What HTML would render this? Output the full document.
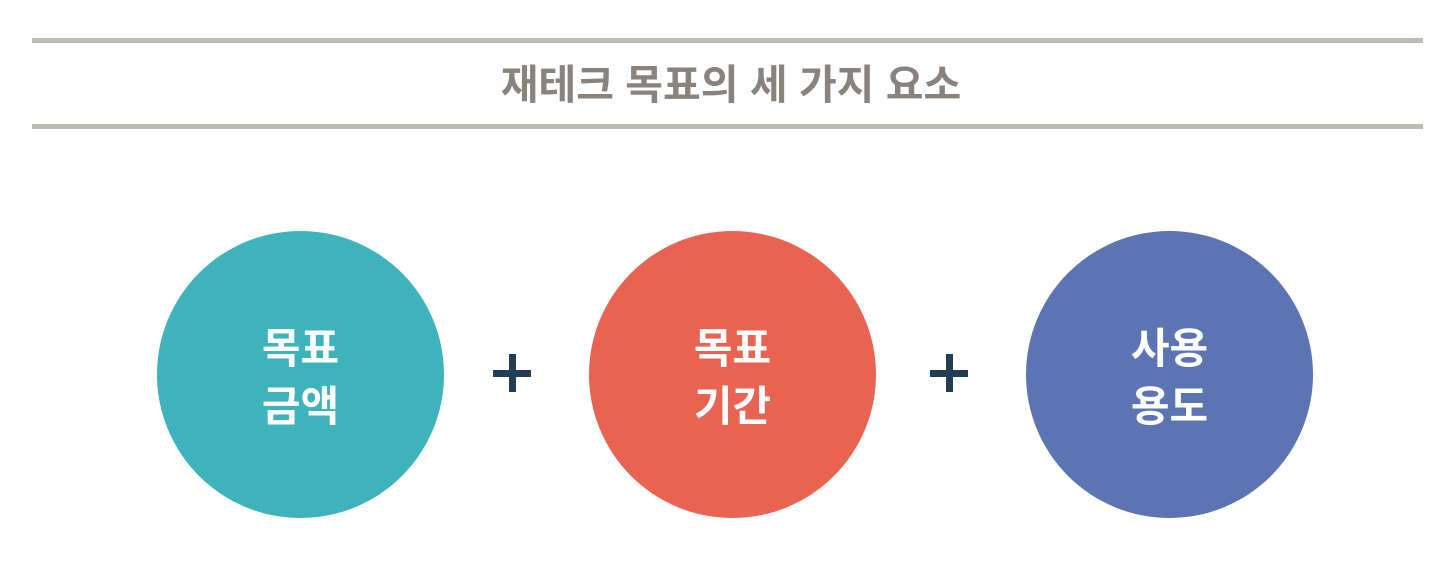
<!DOCTYPE html>
<html><head><meta charset="utf-8"><style>
body{margin:0;width:1450px;height:581px;background:#fff;position:relative;overflow:hidden;font-family:"Liberation Sans","Noto Sans CJK KR",sans-serif}
.line{position:absolute;left:32px;width:1391px;height:5px;background:#bcbcb6}
.title{position:absolute;left:0;width:1462px;top:60px;text-align:center;font-size:41px;font-weight:bold;color:#8a827d;line-height:50px}
.c{position:absolute;top:231px;width:287px;height:287px;border-radius:50%}
.t{position:absolute;left:0;width:100%;text-align:center;color:#fff;font-weight:bold;font-size:42px;line-height:58px;top:89px}
.p{position:absolute;top:354px;width:38px;height:38px}
.p:before{content:"";position:absolute;left:16px;top:0;width:7px;height:38px;background:#233d55}
.p:after{content:"";position:absolute;left:0;top:16px;width:38px;height:7px;background:#233d55}
</style></head><body>
<div class="line" style="top:38px"></div>
<div class="line" style="top:124px"></div>
<div class="title">재테크 목표의 세 가지 요소</div>
<div class="c" style="left:157px;background:#3eb3bc"><div class="t">목표<br>금액</div></div>
<div class="p" style="left:493px"></div>
<div class="c" style="left:589px;background:#e86352"><div class="t">목표<br>기간</div></div>
<div class="p" style="left:930px"></div>
<div class="c" style="left:1026px;background:#5c74b1"><div class="t">사용<br>용도</div></div>
</body></html>
